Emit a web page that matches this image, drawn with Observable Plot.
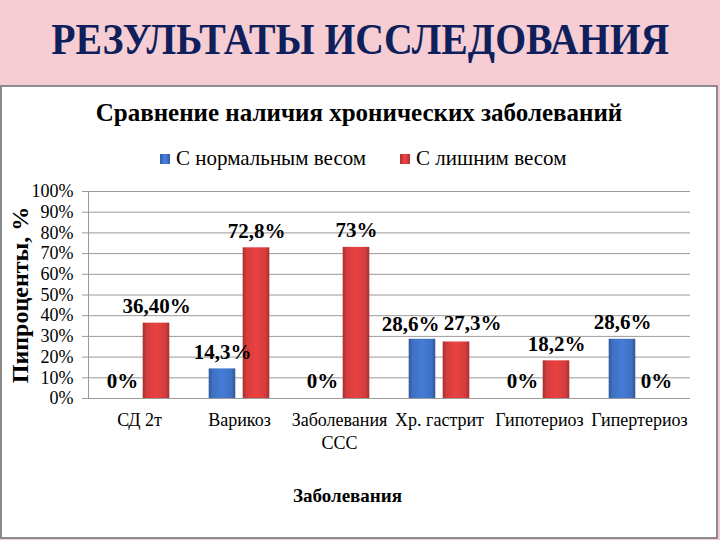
<!DOCTYPE html>
<html><head><meta charset="utf-8">
<script src="https://cdn.jsdelivr.net/npm/d3@7"></script>
<script src="https://cdn.jsdelivr.net/npm/@observablehq/plot@0.6"></script>
<style>
html,body{margin:0;padding:0;}
html body, html body *{font-family:'Liberation Serif','Times New Roman',Times,serif !important;}
body{width:720px;height:540px;background:#f5cdd3;position:relative;overflow:hidden;color:#000;}
#title{position:absolute;left:0;top:14px;width:720px;height:52px;line-height:52px;text-align:center;font-size:44px;font-weight:bold;color:#0f1f5c;white-space:nowrap;}
#title span{display:inline-block;transform-origin:center;}
#panel{position:absolute;left:0;top:85px;width:714px;height:450px;background:#fff;border:2px solid #8c8c8c;}
#ctitle{position:absolute;left:0;top:98px;width:718px;text-align:center;font-size:25px;font-weight:bold;line-height:30px;white-space:nowrap;}
#legend{position:absolute;left:0;top:146px;width:718px;height:24px;font-size:21px;line-height:24px;white-space:nowrap;}
.li{position:absolute;top:0;}
.sw{display:inline-block;width:10px;height:10px;margin-right:6px;vertical-align:1px;}
#chart{position:absolute;left:0;top:180px;}
</style>
</head><body>
<div id="title"><span>РЕЗУЛЬТАТЫ ИССЛЕДОВАНИЯ</span></div>
<div id="panel"></div>
<div id="ctitle"></div>
<div id="legend"></div>
<div id="chart"></div>
<script>
const pageTitle = "РЕЗУЛЬТАТЫ ИССЛЕДОВАНИЯ";
const chartTitle = "Сравнение наличия хронических заболеваний";
const seriesNames = ["С нормальным весом", "С лишним весом"];
const seriesColors = ["#3f71c4", "#d53c3c"];
const categories = ["СД 2т", "Варикоз", "Заболевания\nССС", "Хр. гастрит", "Гипотериоз", "Гипертериоз"];
const normalWeight = [0, 14.3, 0, 28.6, 0, 28.6];
const overWeight = [36.4, 72.8, 73, 27.3, 18.2, 0];
const normalLabels = ["0%", "14,3%", "0%", "28,6%", "0%", "28,6%"];
const overLabels = ["36,40%", "72,8%", "73%", "27,3%", "18,2%", "0%"];
const yTicks = [0, 10, 20, 30, 40, 50, 60, 70, 80, 90, 100];
const yTitle = "Пипроценты, %";
const xTitle = "Заболевания";

const serifFont = "'Liberation Serif', 'Times New Roman', Times, serif";

// titles
const tspan = document.querySelector("#title span");
tspan.textContent = pageTitle;
const tw = tspan.getBoundingClientRect().width;
tspan.style.transform = `scaleX(${618 / tw})`;
document.getElementById("ctitle").textContent = chartTitle;

// legend
const legend = document.getElementById("legend");
const legendLeft = [160, 400];
seriesNames.forEach((name, i) => {
  const item = document.createElement("div");
  item.className = "li";
  item.style.left = legendLeft[i] + "px";
  const sw = document.createElement("span");
  sw.className = "sw";
  sw.style.background = `linear-gradient(to right, ${d3.color(seriesColors[i]).darker(0.6)}, ${d3.color(seriesColors[i]).brighter(0.4)}, ${d3.color(seriesColors[i]).darker(0.6)})`;
  item.appendChild(sw);
  item.appendChild(document.createTextNode(name));
  legend.appendChild(item);
});

const normalRows = categories.map((c, i) => ({category: c, value: normalWeight[i], label: normalLabels[i], idx: i}));
const overRows = categories.map((c, i) => ({category: c, value: overWeight[i], label: overLabels[i], idx: i}));

function gradientDefs() {
  const ns = "http://www.w3.org/2000/svg";
  const defs = document.createElementNS(ns, "defs");
  seriesColors.forEach((col, i) => {
    const g = document.createElementNS(ns, "linearGradient");
    g.setAttribute("id", "grad" + i);
    g.setAttribute("x1", "0"); g.setAttribute("x2", "1"); g.setAttribute("y1", "0"); g.setAttribute("y2", "0");
    const c = d3.color(col);
    [[0, c.darker(0.7)], [0.15, c], [0.5, c.brighter(0.25)], [0.85, c], [1, c.darker(0.7)]].forEach(([o, cc]) => {
      const s = document.createElementNS(ns, "stop");
      s.setAttribute("offset", o);
      s.setAttribute("stop-color", cc.formatHex());
      g.appendChild(s);
    });
    defs.appendChild(g);
  });
  return defs;
}

const labelFont = {fontSize: 21, fontWeight: "bold", fill: "#000"};

const chart = Plot.plot({
  width: 717,
  height: 330,
  marginLeft: 88,
  marginRight: 27,
  marginTop: 11,
  marginBottom: 112,
  style: {fontFamily: serifFont, fontSize: "18px", color: "#000", background: "transparent", overflow: "visible"},
  x: {domain: categories, paddingInner: 0, paddingOuter: 0, label: null},
  y: {domain: [0, 100], label: null},
  marks: [
    () => gradientDefs(),
    Plot.gridY(yTicks, {stroke: "#9a9a9a", strokeOpacity: 1}),
    Plot.frame({anchor: "left", stroke: "#9a9a9a"}),
    Plot.axisY(yTicks, {tickFormat: d => d + "%", tickSize: 6, tickPadding: 9, stroke: "#9a9a9a", fill: "#000", fontSize: 18, label: null}),
    Plot.axisX({tickSize: 0, tickPadding: 12, fontSize: 18, lineHeight: 1.25, fill: "#000", label: null}),
    Plot.barY(normalRows, {filter: d => d.value > 0, x: "category", y: "value", fill: "url(#grad0)", dx: -17, insetLeft: 36.7, insetRight: 36.7}),
    Plot.barY(overRows, {filter: d => d.value > 0, x: "category", y: "value", fill: "url(#grad1)", dx: 17, insetLeft: 36.7, insetRight: 36.7}),
    Plot.text(normalRows, {filter: d => d.idx !== 3, x: "category", y: "value", text: "label", dx: -17, dy: -17, ...labelFont}),
    Plot.text(overRows, {filter: d => d.idx !== 3, x: "category", y: "value", text: "label", dx: 17, dy: -17, ...labelFont}),
    Plot.text(normalRows, {filter: d => d.idx === 3, x: "category", y: "value", text: "label", dx: -29, dy: -15, ...labelFont}),
    Plot.text(overRows, {filter: d => d.idx === 3, x: "category", y: "value", text: "label", dx: 33, dy: -19, ...labelFont}),
    Plot.text([yTitle], {text: d => d, frameAnchor: "left", textAnchor: "middle", lineAnchor: "middle", dx: -68, rotate: -90, fontSize: 24, fontWeight: "bold", fill: "#000"}),
    Plot.text([xTitle], {text: d => d, frameAnchor: "bottom", textAnchor: "middle", lineAnchor: "middle", dx: -42, dy: 97, fontSize: 19, fontWeight: "bold", fill: "#000"})
  ]
});
document.getElementById("chart").appendChild(chart);
</script>
</body></html>
